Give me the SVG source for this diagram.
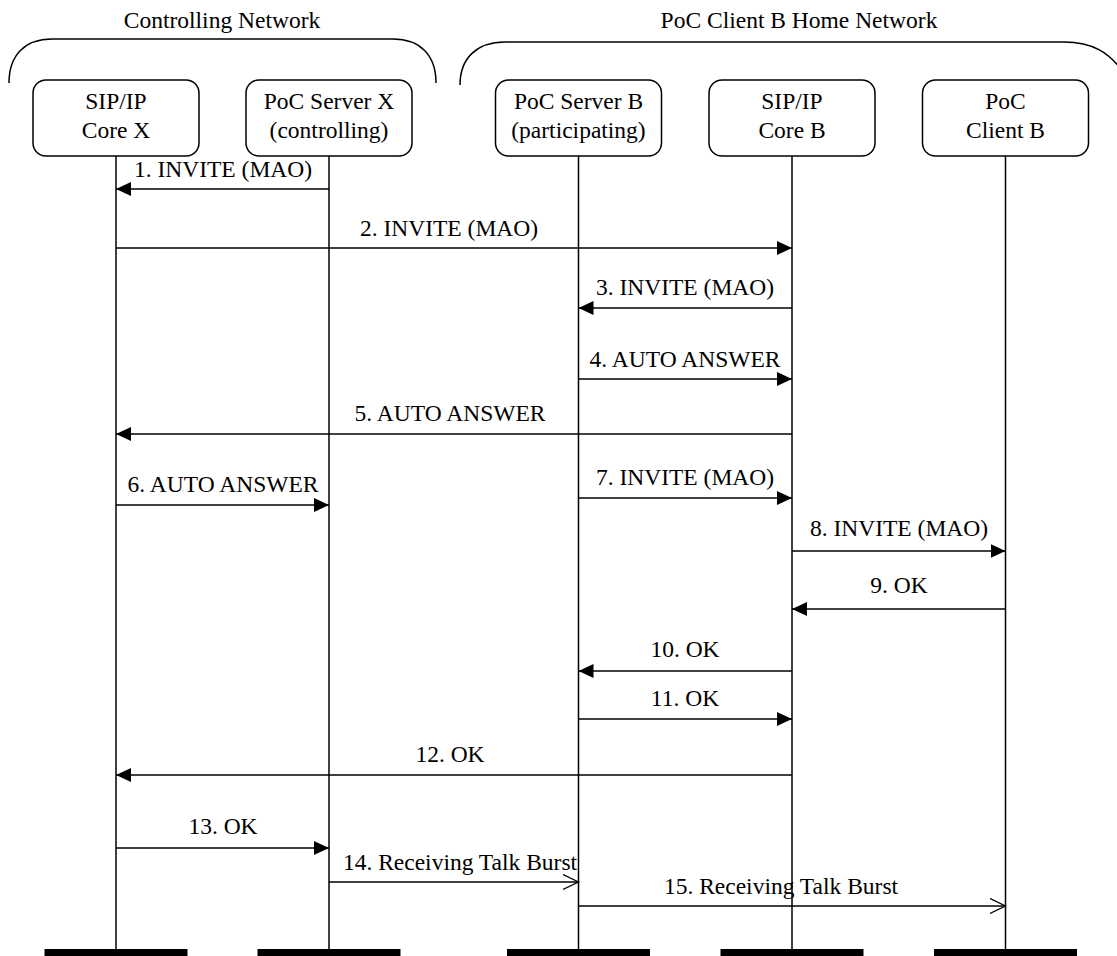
<svg xmlns="http://www.w3.org/2000/svg" width="1117" height="956" viewBox="0 0 1117 956">
<style>
text{font-family:"Liberation Serif","Times New Roman",serif;font-size:23.5px;fill:#000;text-anchor:middle}
.box{fill:#fff;stroke:#000;stroke-width:1.5}
.life{stroke:#000;stroke-width:1.5}
.msg{stroke:#000;stroke-width:1.5;fill:none}
.bar{fill:#000}
.brace{fill:none;stroke:#000;stroke-width:1.5}
</style>
<defs>
<marker id="ah" markerUnits="userSpaceOnUse" markerWidth="16" markerHeight="16" refX="15" refY="7" orient="auto">
<path d="M0,0 L15,7 L0,14 Z" fill="#000"/>
</marker>
<marker id="oh" markerUnits="userSpaceOnUse" markerWidth="17" markerHeight="18" refX="15.5" refY="8" orient="auto">
<path d="M0,0.5 L15.5,8 L0,15.5" fill="none" stroke="#000" stroke-width="1.3"/>
</marker>
</defs>
<rect width="1117" height="956" fill="#fff"/>
<g id="groups">
<path class="brace" d="M9,83 C9,55 25,39 52,39 L393,39 C420,39 436,55 436,83"/>
<text x="222" y="28">Controlling Network</text>
<path class="brace" d="M460,85 C460,58 477,42 505,42 L1064,42 C1092,42 1110,52 1125,75"/>
<text x="799" y="28">PoC Client B Home Network</text>
</g>
<g id="node-sipx">
<line class="life" x1="116" y1="156" x2="116" y2="950"/>
<rect class="box" x="33" y="80" width="166" height="76" rx="13"/>
<text x="116" y="109">SIP/IP</text>
<text x="116" y="138">Core X</text>
<rect class="bar" x="44.5" y="949" width="143" height="7"/>
</g>
<g id="node-pocx">
<line class="life" x1="329" y1="156" x2="329" y2="950"/>
<rect class="box" x="246" y="80" width="166" height="76" rx="13"/>
<text x="329" y="109">PoC Server X</text>
<text x="329" y="138">(controlling)</text>
<rect class="bar" x="257.5" y="949" width="143" height="7"/>
</g>
<g id="node-pocb">
<line class="life" x1="578.5" y1="156" x2="578.5" y2="950"/>
<rect class="box" x="495.5" y="80" width="166" height="76" rx="13"/>
<text x="578.5" y="109">PoC Server B</text>
<text x="578.5" y="138">(participating)</text>
<rect class="bar" x="507" y="949" width="143" height="7"/>
</g>
<g id="node-sipb">
<line class="life" x1="792" y1="156" x2="792" y2="950"/>
<rect class="box" x="709" y="80" width="166" height="76" rx="13"/>
<text x="792" y="109">SIP/IP</text>
<text x="792" y="138">Core B</text>
<rect class="bar" x="720.5" y="949" width="143" height="7"/>
</g>
<g id="node-clientb">
<line class="life" x1="1005.5" y1="156" x2="1005.5" y2="950"/>
<rect class="box" x="922.5" y="80" width="166" height="76" rx="13"/>
<text x="1005.5" y="109">PoC</text>
<text x="1005.5" y="138">Client B</text>
<rect class="bar" x="934" y="949" width="143" height="7"/>
</g>
<g id="connectors">
<line class="msg" x1="329" y1="189" x2="116" y2="189" marker-end="url(#ah)"/>
<text x="223" y="177">1. INVITE (MAO)</text>
<line class="msg" x1="116" y1="248" x2="792" y2="248" marker-end="url(#ah)"/>
<text x="449" y="236">2. INVITE (MAO)</text>
<line class="msg" x1="792" y1="308" x2="578.5" y2="308" marker-end="url(#ah)"/>
<text x="685" y="295">3. INVITE (MAO)</text>
<line class="msg" x1="578.5" y1="379" x2="792" y2="379" marker-end="url(#ah)"/>
<text x="685" y="367">4. AUTO ANSWER</text>
<line class="msg" x1="792" y1="434" x2="116" y2="434" marker-end="url(#ah)"/>
<text x="450" y="421">5. AUTO ANSWER</text>
<line class="msg" x1="116" y1="505" x2="329" y2="505" marker-end="url(#ah)"/>
<text x="223" y="492">6. AUTO ANSWER</text>
<line class="msg" x1="578.5" y1="498" x2="792" y2="498" marker-end="url(#ah)"/>
<text x="685" y="485">7. INVITE (MAO)</text>
<line class="msg" x1="792" y1="551" x2="1005.5" y2="551" marker-end="url(#ah)"/>
<text x="899" y="536">8. INVITE (MAO)</text>
<line class="msg" x1="1005.5" y1="609" x2="792" y2="609" marker-end="url(#ah)"/>
<text x="899" y="593">9. OK</text>
<line class="msg" x1="792" y1="671" x2="578.5" y2="671" marker-end="url(#ah)"/>
<text x="685" y="657">10. OK</text>
<line class="msg" x1="578.5" y1="719" x2="792" y2="719" marker-end="url(#ah)"/>
<text x="685" y="706">11. OK</text>
<line class="msg" x1="792" y1="775" x2="116" y2="775" marker-end="url(#ah)"/>
<text x="450" y="762">12. OK</text>
<line class="msg" x1="116" y1="848" x2="329" y2="848" marker-end="url(#ah)"/>
<text x="223" y="834">13. OK</text>
<line class="msg" x1="329" y1="882" x2="578.5" y2="882" marker-end="url(#oh)"/>
<text x="460" y="870">14. Receiving Talk Burst</text>
<line class="msg" x1="578.5" y1="906" x2="1005.5" y2="906" marker-end="url(#oh)"/>
<text x="781" y="894">15. Receiving Talk Burst</text>
</g>
</svg>
